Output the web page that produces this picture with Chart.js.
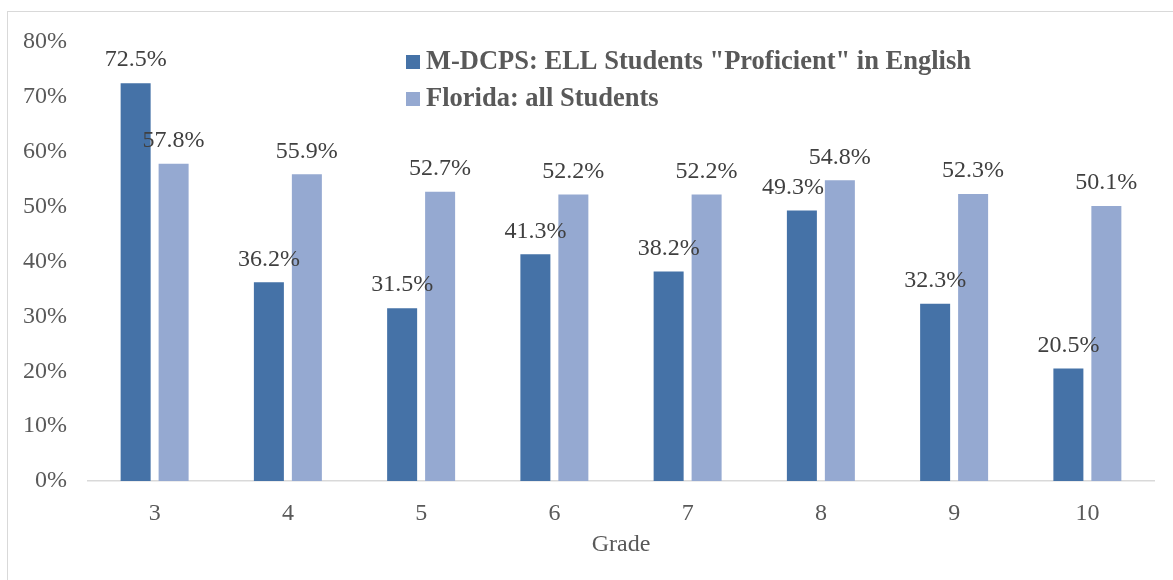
<!DOCTYPE html>
<html>
<head>
<meta charset="utf-8">
<script src="https://cdn.jsdelivr.net/npm/chart.js@4/dist/chart.umd.min.js"></script>
<style>
  html, body { margin: 0; padding: 0; background: #ffffff; }
  #wrap { width: 1173px; height: 580px; }
</style>
</head>
<body>
<div id="wrap"><canvas id="c" width="1173" height="580"></canvas></div>
<script>
const grades = ["3", "4", "5", "6", "7", "8", "9", "10"];
const ellProficient = [72.5, 36.2, 31.5, 41.3, 38.2, 49.3, 32.3, 20.5];
const floridaAll = [57.8, 55.9, 52.7, 52.2, 52.2, 54.8, 52.3, 50.1];
const yTicks = [0, 10, 20, 30, 40, 50, 60, 70, 80];
const seriesNames = ['M-DCPS: ELL Students "Proficient" in English', 'Florida: all Students'];
const xTitle = "Grade";

const FONT = '"Liberation Serif", "Times New Roman", serif';
const DARK = '#4572a7';
const LIGHT = '#95a9d1';

const frame = {
  id: 'frame',
  beforeDraw(chart) {
    const ctx = chart.ctx;
    ctx.save();
    ctx.fillStyle = '#ffffff';
    ctx.fillRect(0, 0, chart.width, chart.height);
    ctx.strokeStyle = '#d9d9d9';
    ctx.lineWidth = 1;
    ctx.strokeRect(7.5, 11.5, 2000, 2000);
    ctx.restore();
  }
};

const valueLabels = {
  id: 'valueLabels',
  afterDatasetsDraw(chart, args, opts) {
    const ctx = chart.ctx;
    ctx.save();
    ctx.font = '24px ' + FONT;
    ctx.fillStyle = '#404040';
    ctx.textAlign = 'center';
    ctx.textBaseline = 'middle';
    chart.data.datasets.forEach((ds, di) => {
      const meta = chart.getDatasetMeta(di);
      meta.data.forEach((bar, i) => {
        const shift = (opts.shift && opts.shift[di] && opts.shift[di][i]) || 0;
        ctx.fillText(ds.data[i].toFixed(1) + '%', bar.x + shift, bar.y - 23);
      });
    });
    ctx.restore();
  }
};

const innerLegend = {
  id: 'innerLegend',
  afterDraw(chart) {
    const ctx = chart.ctx;
    ctx.save();
    ctx.font = 'bold 26.5px ' + FONT;
    ctx.textBaseline = 'middle';
    ctx.textAlign = 'left';
    const x0 = 406, y0 = 62, step = 37, box = 14;
    chart.data.datasets.forEach((ds, di) => {
      const y = y0 + di * step;
      ctx.fillStyle = ds.backgroundColor;
      ctx.fillRect(x0, y - box / 2, box, box);
      ctx.fillStyle = '#595959';
      ctx.fillText(ds.label, x0 + 20, y);
    });
    ctx.restore();
  }
};

new Chart(document.getElementById('c'), {
  type: 'bar',
  data: {
    labels: grades,
    datasets: [
      { label: seriesNames[0], data: ellProficient, backgroundColor: DARK },
      { label: seriesNames[1], data: floridaAll, backgroundColor: LIGHT }
    ]
  },
  options: {
    responsive: false,
    animation: false,
    devicePixelRatio: 1,
    layout: { padding: { left: 0, right: 19, top: 42, bottom: 0 } },
    datasets: {
      bar: { categoryPercentage: 0.57, barPercentage: 0.79 }
    },
    plugins: {
      legend: { display: false },
      tooltip: { enabled: false },
      valueLabels: { shift: [[0, 0, 0, 0, 0, -9, 0, 0], []] }
    },
    scales: {
      x: {
        grid: { display: false, drawTicks: false },
        border: { display: true, color: '#d9d9d9', width: 1.5 },
        ticks: { color: '#595959', font: { family: FONT, size: 24 }, padding: 18 },
        title: { display: true, text: xTitle, color: '#595959', font: { family: FONT, size: 24 }, padding: { top: 0, bottom: 21 } },
        afterFit(scale) { scale.height = 99; }
      },
      y: {
        min: 0, max: 80,
        afterBuildTicks(scale) { scale.ticks = yTicks.map(v => ({ value: v })); },
        grid: { display: false, drawTicks: false },
        border: { display: false },
        ticks: { color: '#595959', font: { family: FONT, size: 24 }, padding: 21, callback: v => v + '%' },
        afterFit(scale) { scale.width = 88; }
      }
    }
  },
  plugins: [frame, valueLabels, innerLegend]
});
</script>
</body>
</html>
